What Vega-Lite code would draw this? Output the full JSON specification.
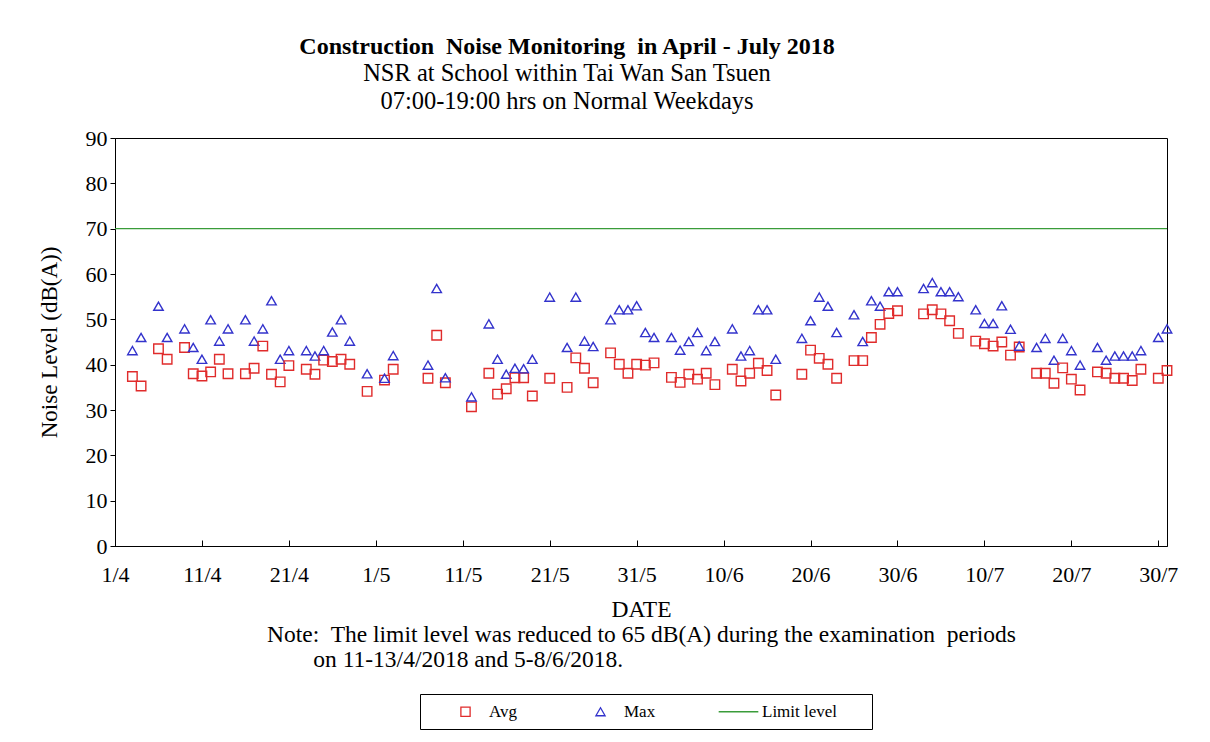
{
  "$schema": "https://vega.github.io/schema/vega-lite/v6.json",
  "width": 1052,
  "height": 408,
  "autosize": {"type": "none"},
  "padding": {"left": 115, "top": 138, "right": 43, "bottom": 196},
  "background": "white",
  "title": {
    "text": "Construction\u00a0 Noise Monitoring\u00a0 in April - July 2018",
    "subtitle": ["NSR at School within Tai Wan San Tsuen", "07:00-19:00 hrs on Normal Weekdays"],
    "anchor": "middle",
    "dx": -74,
    "font": "Liberation Serif",
    "fontSize": 24,
    "fontWeight": "bold",
    "color": "black",
    "subtitleFont": "Liberation Serif",
    "subtitleFontSize": 24.5,
    "subtitleColor": "black",
    "subtitleLineHeight": 28,
    "subtitlePadding": 3,
    "offset": 14
  },
  "config": {
    "view": {"stroke": "black", "strokeWidth": 1},
    "font": "Liberation Serif",
    "axis": {
      "grid": false,
      "domainColor": "black",
      "tickColor": "black",
      "labelColor": "black",
      "titleColor": "black",
      "labelFont": "Liberation Serif",
      "titleFont": "Liberation Serif",
      "labelFontSize": 22,
      "titleFontSize": 23,
      "titleFontWeight": "normal"
    },
    "legend": {
      "labelFont": "Liberation Serif",
      "labelFontSize": 17,
      "labelColor": "black"
    }
  },
  "encoding": {
    "x": {
      "field": "date",
      "type": "temporal",
      "scale": {
        "type": "utc",
        "domain": [
          {"year": 2018, "month": 4, "date": 1, "utc": true},
          {"year": 2018, "month": 7, "date": 31, "utc": true}
        ]
      },
      "axis": {
        "title": ["DATE", "Note:\u00a0 The limit level was reduced to 65 dB(A) during the examination\u00a0 periods", "on 11-13/4/2018 and 5-8/6/2018.\u00a0\u00a0\u00a0\u00a0\u00a0\u00a0\u00a0\u00a0\u00a0\u00a0\u00a0\u00a0\u00a0\u00a0\u00a0\u00a0\u00a0\u00a0\u00a0\u00a0\u00a0\u00a0\u00a0\u00a0\u00a0\u00a0\u00a0\u00a0\u00a0\u00a0\u00a0\u00a0\u00a0\u00a0\u00a0\u00a0\u00a0\u00a0\u00a0\u00a0\u00a0\u00a0\u00a0\u00a0\u00a0\u00a0\u00a0\u00a0\u00a0\u00a0\u00a0\u00a0\u00a0\u00a0\u00a0\u00a0\u00a0\u00a0\u00a0\u200b"],
        "titleFontSize": 23.5,
        "titleLineHeight": 25,
        "titlePadding": 12,
        "labelExpr": "utcFormat(datum.value, '%-d/%-m')",
        "values": [
          {"year": 2018, "month": 4, "date": 1, "utc": true},
          {"year": 2018, "month": 4, "date": 11, "utc": true},
          {"year": 2018, "month": 4, "date": 21, "utc": true},
          {"year": 2018, "month": 5, "date": 1, "utc": true},
          {"year": 2018, "month": 5, "date": 11, "utc": true},
          {"year": 2018, "month": 5, "date": 21, "utc": true},
          {"year": 2018, "month": 5, "date": 31, "utc": true},
          {"year": 2018, "month": 6, "date": 10, "utc": true},
          {"year": 2018, "month": 6, "date": 20, "utc": true},
          {"year": 2018, "month": 6, "date": 30, "utc": true},
          {"year": 2018, "month": 7, "date": 10, "utc": true},
          {"year": 2018, "month": 7, "date": 20, "utc": true},
          {"year": 2018, "month": 7, "date": 30, "utc": true}
        ],
        "tickSize": -6,
        "labelPadding": 24,
        "labelFlush": false,
        "labelOverlap": false
      }
    },
    "y": {
      "field": "value",
      "type": "quantitative",
      "scale": {"domain": [0, 90], "nice": false, "zero": true},
      "axis": {
        "title": "Noise Level (dB(A))",
        "values": [0, 10, 20, 30, 40, 50, 60, 70, 80, 90],
        "tickSize": 5,
        "labelPadding": 3,
        "titlePadding": 24
      }
    }
  },
  "layer": [
    {
      "data": {
        "values": [
          {"date": "2018-04-03", "Avg": 37.4, "Max": 43.1},
          {"date": "2018-04-04", "Avg": 35.3, "Max": 46.0},
          {"date": "2018-04-06", "Avg": 43.5, "Max": 52.9},
          {"date": "2018-04-07", "Avg": 41.2, "Max": 46.0},
          {"date": "2018-04-09", "Avg": 43.8, "Max": 47.9},
          {"date": "2018-04-10", "Avg": 38.0, "Max": 43.8},
          {"date": "2018-04-11", "Avg": 37.5, "Max": 41.2},
          {"date": "2018-04-12", "Avg": 38.4, "Max": 49.9},
          {"date": "2018-04-13", "Avg": 41.2, "Max": 45.2},
          {"date": "2018-04-14", "Avg": 38.0, "Max": 47.9},
          {"date": "2018-04-16", "Avg": 38.0, "Max": 49.9},
          {"date": "2018-04-17", "Avg": 39.2, "Max": 45.2},
          {"date": "2018-04-18", "Avg": 44.1, "Max": 47.9},
          {"date": "2018-04-19", "Avg": 37.9, "Max": 54.1},
          {"date": "2018-04-20", "Avg": 36.2, "Max": 41.2},
          {"date": "2018-04-21", "Avg": 39.8, "Max": 43.1},
          {"date": "2018-04-23", "Avg": 39.0, "Max": 43.1},
          {"date": "2018-04-24", "Avg": 37.9, "Max": 41.9},
          {"date": "2018-04-25", "Avg": 41.0, "Max": 43.1},
          {"date": "2018-04-26", "Avg": 40.7, "Max": 47.2},
          {"date": "2018-04-27", "Avg": 41.2, "Max": 49.9},
          {"date": "2018-04-28", "Avg": 40.1, "Max": 45.2},
          {"date": "2018-04-30", "Avg": 34.1, "Max": 38.0},
          {"date": "2018-05-02", "Avg": 36.6, "Max": 37.0},
          {"date": "2018-05-03", "Avg": 39.0, "Max": 42.0},
          {"date": "2018-05-07", "Avg": 37.0, "Max": 39.9},
          {"date": "2018-05-08", "Avg": 46.5, "Max": 56.8},
          {"date": "2018-05-09", "Avg": 36.0, "Max": 37.1},
          {"date": "2018-05-12", "Avg": 30.7, "Max": 32.9},
          {"date": "2018-05-14", "Avg": 38.1, "Max": 49.0},
          {"date": "2018-05-15", "Avg": 33.5, "Max": 41.2},
          {"date": "2018-05-16", "Avg": 34.7, "Max": 37.9},
          {"date": "2018-05-17", "Avg": 37.1, "Max": 39.2},
          {"date": "2018-05-18", "Avg": 37.1, "Max": 39.1},
          {"date": "2018-05-19", "Avg": 33.1, "Max": 41.2},
          {"date": "2018-05-21", "Avg": 37.0, "Max": 54.9},
          {"date": "2018-05-23", "Avg": 35.0, "Max": 43.8},
          {"date": "2018-05-24", "Avg": 41.5, "Max": 54.9},
          {"date": "2018-05-25", "Avg": 39.2, "Max": 45.2},
          {"date": "2018-05-26", "Avg": 36.0, "Max": 44.0},
          {"date": "2018-05-28", "Avg": 42.6, "Max": 49.9},
          {"date": "2018-05-29", "Avg": 40.1, "Max": 52.1},
          {"date": "2018-05-30", "Avg": 38.1, "Max": 52.1},
          {"date": "2018-05-31", "Avg": 40.1, "Max": 53.0},
          {"date": "2018-06-01", "Avg": 39.9, "Max": 47.1},
          {"date": "2018-06-02", "Avg": 40.4, "Max": 46.0},
          {"date": "2018-06-04", "Avg": 37.2, "Max": 46.0},
          {"date": "2018-06-05", "Avg": 36.1, "Max": 43.2},
          {"date": "2018-06-06", "Avg": 37.9, "Max": 45.1},
          {"date": "2018-06-07", "Avg": 36.8, "Max": 47.1},
          {"date": "2018-06-08", "Avg": 38.1, "Max": 43.1},
          {"date": "2018-06-09", "Avg": 35.6, "Max": 45.1},
          {"date": "2018-06-11", "Avg": 39.0, "Max": 47.9},
          {"date": "2018-06-12", "Avg": 36.4, "Max": 41.9},
          {"date": "2018-06-13", "Avg": 38.1, "Max": 43.1},
          {"date": "2018-06-14", "Avg": 40.3, "Max": 52.1},
          {"date": "2018-06-15", "Avg": 38.7, "Max": 52.1},
          {"date": "2018-06-16", "Avg": 33.3, "Max": 41.2},
          {"date": "2018-06-19", "Avg": 37.9, "Max": 45.8},
          {"date": "2018-06-20", "Avg": 43.2, "Max": 49.7},
          {"date": "2018-06-21", "Avg": 41.4, "Max": 54.9},
          {"date": "2018-06-22", "Avg": 40.1, "Max": 52.9},
          {"date": "2018-06-23", "Avg": 37.0, "Max": 47.1},
          {"date": "2018-06-25", "Avg": 40.9, "Max": 51.0},
          {"date": "2018-06-26", "Avg": 40.9, "Max": 45.1},
          {"date": "2018-06-27", "Avg": 46.0, "Max": 54.1},
          {"date": "2018-06-28", "Avg": 48.9, "Max": 52.9},
          {"date": "2018-06-29", "Avg": 51.3, "Max": 56.1},
          {"date": "2018-06-30", "Avg": 51.9, "Max": 56.1},
          {"date": "2018-07-03", "Avg": 51.2, "Max": 56.8},
          {"date": "2018-07-04", "Avg": 52.1, "Max": 58.1},
          {"date": "2018-07-05", "Avg": 51.2, "Max": 56.1},
          {"date": "2018-07-06", "Avg": 49.7, "Max": 56.1},
          {"date": "2018-07-07", "Avg": 46.9, "Max": 55.0},
          {"date": "2018-07-09", "Avg": 45.2, "Max": 52.1},
          {"date": "2018-07-10", "Avg": 44.6, "Max": 49.1},
          {"date": "2018-07-11", "Avg": 44.1, "Max": 49.1},
          {"date": "2018-07-12", "Avg": 45.0, "Max": 53.0},
          {"date": "2018-07-13", "Avg": 42.1, "Max": 47.8},
          {"date": "2018-07-14", "Avg": 43.9, "Max": 44.1},
          {"date": "2018-07-16", "Avg": 38.1, "Max": 43.8},
          {"date": "2018-07-17", "Avg": 38.1, "Max": 45.8},
          {"date": "2018-07-18", "Avg": 35.9, "Max": 41.0},
          {"date": "2018-07-19", "Avg": 39.3, "Max": 45.8},
          {"date": "2018-07-20", "Avg": 36.8, "Max": 43.1},
          {"date": "2018-07-21", "Avg": 34.4, "Max": 39.9},
          {"date": "2018-07-23", "Avg": 38.4, "Max": 43.8},
          {"date": "2018-07-24", "Avg": 38.1, "Max": 41.0},
          {"date": "2018-07-25", "Avg": 37.0, "Max": 41.9},
          {"date": "2018-07-26", "Avg": 37.0, "Max": 41.9},
          {"date": "2018-07-27", "Avg": 36.5, "Max": 41.9},
          {"date": "2018-07-28", "Avg": 39.0, "Max": 43.1},
          {"date": "2018-07-30", "Avg": 37.0, "Max": 46.0},
          {"date": "2018-07-31", "Avg": 38.7, "Max": 47.9}
        ]
      },
      "transform": [{"fold": ["Avg", "Max"], "as": ["series", "value"]}],
      "mark": {"type": "point", "filled": false, "strokeWidth": 1.4, "opacity": 1, "size": 90},
      "encoding": {
        "color": {
          "field": "series",
          "type": "nominal",
          "scale": {"domain": ["Avg", "Max", "Limit level"], "range": ["#e02b2b", "#3333cc", "#3a9c3a"]},
          "legend": {
            "title": null,
            "orient": "none",
            "legendX": 305,
            "legendY": 556,
            "direction": "horizontal",
            "strokeColor": "black",
            "fillColor": "white",
            "padding": 9,
            "symbolOffset": 28,
            "columnPadding": 46,
            "labelOffset": 15,
            "symbolSize": 85,
            "symbolStrokeWidth": 1.3,
            "symbolFillColor": "transparent",
            "labelExpr": "datum.label == 'Limit level' ? 'Limit level\u00a0\u00a0\u00a0\u00a0\u00a0\u00a0\u200b' : datum.label"
          }
        },
        "shape": {
          "field": "series",
          "type": "nominal",
          "scale": {"domain": ["Avg", "Max", "Limit level"], "range": ["square", "triangle-up", "M-4.3,0H4.3"]},
          "legend": {
            "title": null,
            "orient": "none",
            "legendX": 305,
            "legendY": 556,
            "direction": "horizontal",
            "strokeColor": "black",
            "fillColor": "white",
            "padding": 9,
            "symbolOffset": 28,
            "columnPadding": 46,
            "labelOffset": 15,
            "symbolSize": 85,
            "symbolStrokeWidth": 1.3,
            "symbolFillColor": "transparent",
            "labelExpr": "datum.label == 'Limit level' ? 'Limit level\u00a0\u00a0\u00a0\u00a0\u00a0\u00a0\u200b' : datum.label"
          }
        }
      }
    },
    {
      "data": {
        "values": [
          {"date": "2018-04-01", "value": 70},
          {"date": "2018-07-31", "value": 70}
        ]
      },
      "mark": {"type": "line", "strokeWidth": 1.3, "color": "#3a9c3a"}
    }
  ]
}
